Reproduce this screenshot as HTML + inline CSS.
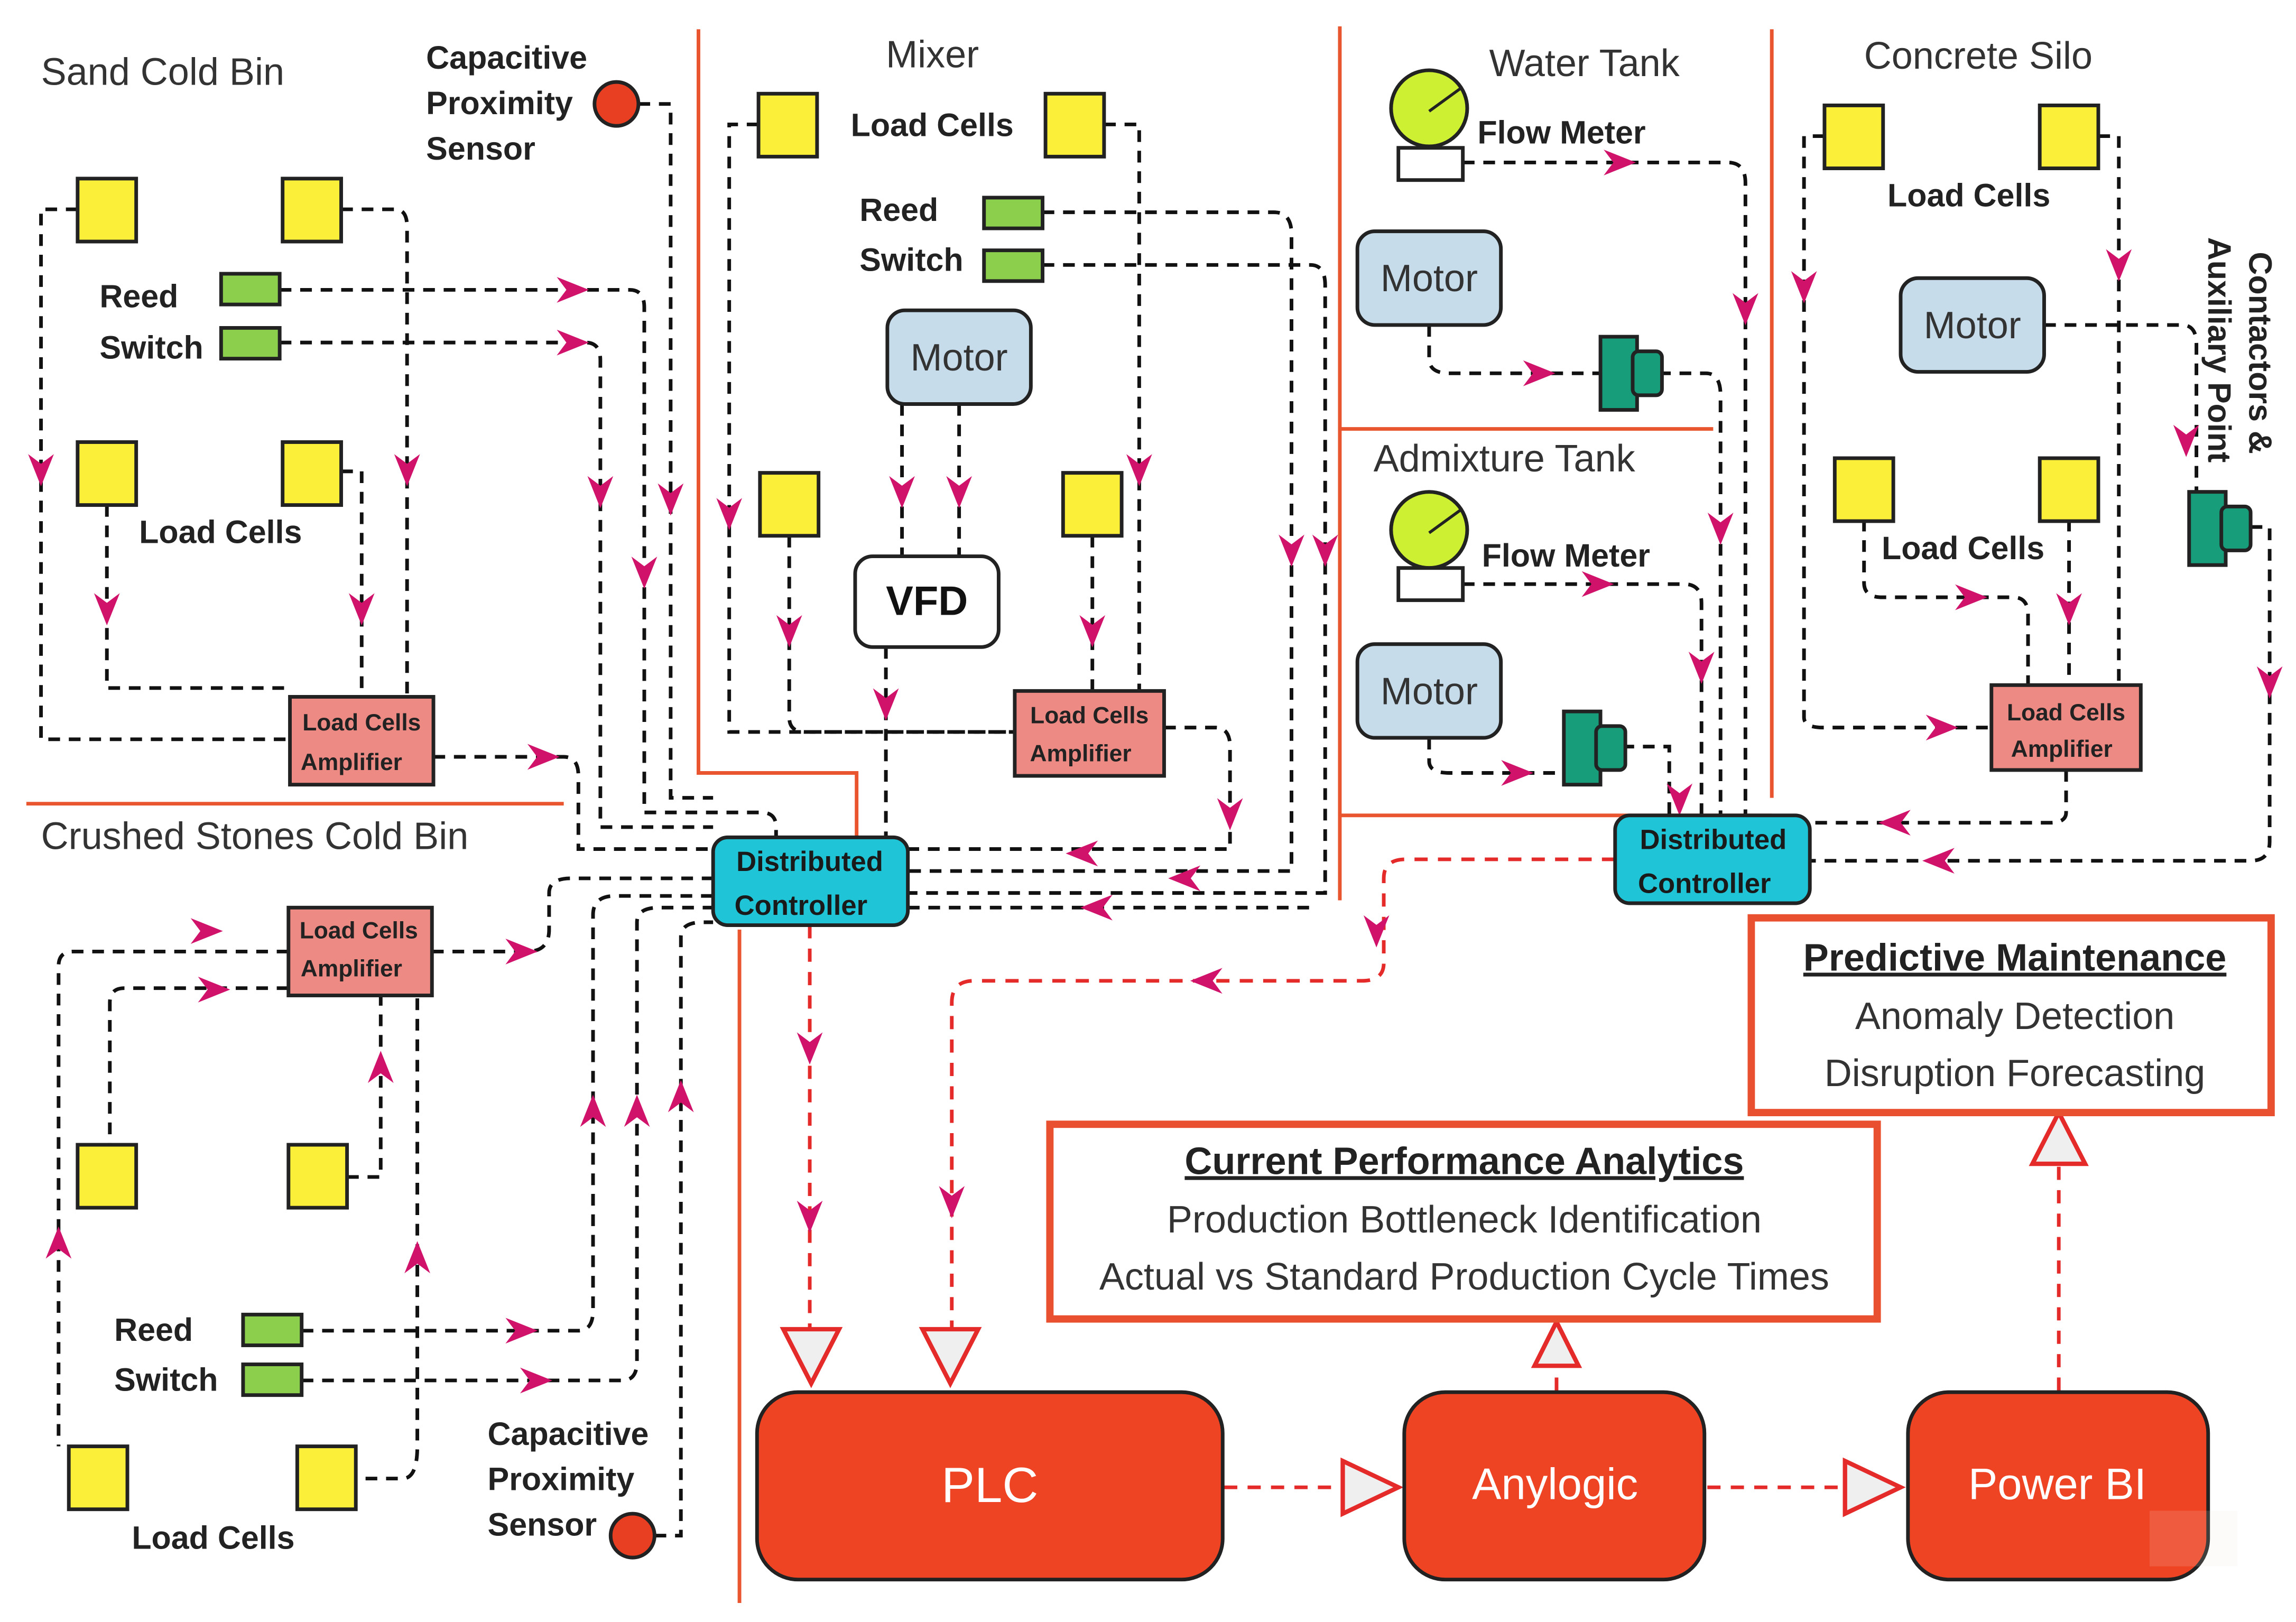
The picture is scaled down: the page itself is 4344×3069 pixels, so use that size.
<!DOCTYPE html>
<html><head><meta charset="utf-8"><style>
html,body{margin:0;padding:0;background:#fff;}
svg{display:block;}
text{font-family:"Liberation Sans","DejaVu Sans",sans-serif;}
</style></head><body>
<svg width="4344" height="3069" viewBox="0 0 1568 1108" preserveAspectRatio="none" xmlns="http://www.w3.org/2000/svg">
<defs>
<marker id="p" viewBox="0 0 10 10" refX="9" refY="5" markerWidth="22" markerHeight="22" orient="auto" markerUnits="userSpaceOnUse"><path d="M0,1 L10,5 L0,9 L3,5 z" fill="#d0126a"/></marker>
</defs>
<rect width="1568" height="1108" fill="#fff"/>
<g stroke="#e8552f" stroke-width="2.5" fill="none">
<path d="M477 20 V528 H585 V600"/>
<path d="M505 635 V1095"/>
<path d="M18 549 H385"/>
<path d="M915 18 V615"/>
<path d="M915 293 H1170"/>
<path d="M915 557 H1210"/>
<path d="M1210 20 V545"/>
</g>
<g stroke="#111" stroke-width="2.5" fill="none" stroke-dasharray="8 6">
<path d="M53 143 H28 V505 H198"/>
<path d="M233 143 H270 Q278 143 278 155 V476"/>
<path d="M73 345 V470 H198"/>
<path d="M233 322 H247 V476"/>
<path d="M191 198 H430 Q440 198 440 210 V555 H520 Q530 555 530 565 V600"/>
<path d="M191 234 H400 Q410 234 410 246 V565 H487"/>
<path d="M436 71 H458 V545 H487"/>
<path d="M296 517 H385 Q395 517 395 530 V580 H487"/>
<path d="M518 85 H498 V500 H693"/>
<path d="M754 85 H778 V472"/>
<path d="M539 366 V490 Q539 500 550 500 H693"/>
<path d="M746 366 V472"/>
<path d="M616 276 V380"/>
<path d="M655 276 V380"/>
<path d="M605 442 V572"/>
<path d="M712 145 H870 Q882 145 882 160 V595 H620"/>
<path d="M712 181 H895 Q905 181 905 195 V610 H620"/>
<path d="M795 497 H830 Q840 497 840 510 V580 H620"/>
<path d="M999 111 H1180 Q1192 111 1192 125 V557"/>
<path d="M976 222 V245 Q976 255 990 255 H1093"/>
<path d="M1133 255 H1165 Q1175 255 1175 270 V557"/>
<path d="M999 399 H1150 Q1162 399 1162 412 V557"/>
<path d="M976 504 V520 Q976 528 990 528 H1068"/>
<path d="M1108 510 H1140 V557"/>
<path d="M1246 93 H1232 V490 Q1232 497 1245 497 H1360"/>
<path d="M1433 93 H1447 V468"/>
<path d="M1273 355 V398 Q1273 408 1285 408 H1375 Q1385 408 1385 420 V468"/>
<path d="M1413 355 V468"/>
<path d="M1396 222 H1490 Q1500 222 1500 235 V336"/>
<path d="M1537 360 H1550 V575 Q1550 588 1537 588 H1236"/>
<path d="M1411 526 V555 Q1411 562 1400 562 H1236"/>
<path d="M197 650 H50 Q40 650 40 660 V988"/>
<path d="M197 675 H85 Q75 675 75 685 V782"/>
<path d="M237 804 H260 V680"/>
<path d="M295 650 H285 V988 Q285 1010 275 1010 H243"/>
<path d="M295 650 H360 Q375 650 375 635 V610 Q375 600 390 600 H487"/>
<path d="M206 909 H395 Q405 909 405 895 V625 Q405 612 420 612 H487"/>
<path d="M206 943 H425 Q435 943 435 930 V630 Q435 620 450 620 H487"/>
<path d="M447 1049 H465 V640 Q465 630 480 630 H487"/>
<path d="M620 620 H900"/>
</g>
<g stroke="#d0126a" stroke-width="0" fill="none">
<path d="M28 290 V330" marker-end="url(#p)"/>
<path d="M278 290 V330" marker-end="url(#p)"/>
<path d="M73 390 V425" marker-end="url(#p)"/>
<path d="M247 390 V425" marker-end="url(#p)"/>
<path d="M360 198 H400" marker-end="url(#p)"/>
<path d="M355 234 H400" marker-end="url(#p)"/>
<path d="M410 310 V345" marker-end="url(#p)"/>
<path d="M440 370 V400" marker-end="url(#p)"/>
<path d="M458 320 V350" marker-end="url(#p)"/>
<path d="M335 517 H380" marker-end="url(#p)"/>
<path d="M498 320 V360" marker-end="url(#p)"/>
<path d="M778 290 V330" marker-end="url(#p)"/>
<path d="M539 400 V440" marker-end="url(#p)"/>
<path d="M746 390 V440" marker-end="url(#p)"/>
<path d="M616 310 V345" marker-end="url(#p)"/>
<path d="M655 310 V345" marker-end="url(#p)"/>
<path d="M605 445 V490" marker-end="url(#p)"/>
<path d="M840 520 V565" marker-end="url(#p)"/>
<path d="M882 340 V385" marker-end="url(#p)"/>
<path d="M905 340 V385" marker-end="url(#p)"/>
<path d="M780 583 H730" marker-end="url(#p)"/>
<path d="M845 600 H800" marker-end="url(#p)"/>
<path d="M800 620 H740" marker-end="url(#p)"/>
<path d="M1065 111 H1115" marker-end="url(#p)"/>
<path d="M1192 180 V220" marker-end="url(#p)"/>
<path d="M1010 255 H1060" marker-end="url(#p)"/>
<path d="M1175 330 V370" marker-end="url(#p)"/>
<path d="M1060 399 H1100" marker-end="url(#p)"/>
<path d="M1162 420 V465" marker-end="url(#p)"/>
<path d="M995 528 H1045" marker-end="url(#p)"/>
<path d="M1147 510 V555" marker-end="url(#p)"/>
<path d="M1232 170 V205" marker-end="url(#p)"/>
<path d="M1447 150 V190" marker-end="url(#p)"/>
<path d="M1493 270 V310" marker-end="url(#p)"/>
<path d="M1310 408 H1355" marker-end="url(#p)"/>
<path d="M1413 385 V425" marker-end="url(#p)"/>
<path d="M1290 497 H1335" marker-end="url(#p)"/>
<path d="M1550 440 V475" marker-end="url(#p)"/>
<path d="M1330 562 H1285" marker-end="url(#p)"/>
<path d="M1360 588 H1315" marker-end="url(#p)"/>
<path d="M105 636 H150" marker-end="url(#p)"/>
<path d="M105 676 H155" marker-end="url(#p)"/>
<path d="M260 755 V720" marker-end="url(#p)"/>
<path d="M40 880 V840" marker-end="url(#p)"/>
<path d="M285 880 V850" marker-end="url(#p)"/>
<path d="M325 650 H365" marker-end="url(#p)"/>
<path d="M320 909 H365" marker-end="url(#p)"/>
<path d="M330 943 H375" marker-end="url(#p)"/>
<path d="M405 790 V750" marker-end="url(#p)"/>
<path d="M435 790 V750" marker-end="url(#p)"/>
<path d="M465 780 V740" marker-end="url(#p)"/>
</g>
<g stroke="#e52a2a" stroke-width="2.5" fill="none" stroke-dasharray="9 7">
<path d="M553 632 V908"/>
<path d="M1103 587 H960 Q945 587 945 600 V658 Q945 670 930 670 H665 Q650 670 650 685 V908"/>
<path d="M836 1016 H915"/>
<path d="M1166 1016 H1258"/>
<path d="M1063 950 V935"/>
<path d="M1406 950 V795"/>
</g>
<g stroke-width="0">
<path d="M553 680 V725" marker-end="url(#p)"/>
<path d="M553 800 V840" marker-end="url(#p)"/>
<path d="M940 610 V645" marker-end="url(#p)"/>
<path d="M860 670 H815" marker-end="url(#p)"/>
<path d="M650 790 V830" marker-end="url(#p)"/>
</g>
<g fill="#efefef" stroke="#e52a2a" stroke-width="3">
<path d="M535 908 H573 L554 945 Z"/>
<path d="M630 908 H668 L649 945 Z"/>
<path d="M917 998 V1034 L955 1016 Z"/>
<path d="M1260 998 V1034 L1298 1016 Z"/>
<path d="M1048 933 H1078 L1063 903 Z"/>
<path d="M1388 795 H1424 L1406 760 Z"/>
</g>
<g fill="#fbef3a" stroke="#222" stroke-width="2.5">
<rect x="53" y="122" width="40" height="43"/><rect x="193" y="122" width="40" height="43"/>
<rect x="53" y="302" width="40" height="43"/><rect x="193" y="302" width="40" height="43"/>
<rect x="518" y="64" width="40" height="43"/><rect x="714" y="64" width="40" height="43"/>
<rect x="519" y="323" width="40" height="43"/><rect x="726" y="323" width="40" height="43"/>
<rect x="1246" y="72" width="40" height="43"/><rect x="1393" y="72" width="40" height="43"/>
<rect x="1253" y="313" width="40" height="43"/><rect x="1393" y="313" width="40" height="43"/>
<rect x="53" y="782" width="40" height="43"/><rect x="197" y="782" width="40" height="43"/>
<rect x="47" y="988" width="40" height="43"/><rect x="203" y="988" width="40" height="43"/>
</g>
<g fill="#8ccf4d" stroke="#222" stroke-width="2.5">
<rect x="151" y="187" width="40" height="21"/><rect x="151" y="224" width="40" height="21"/>
<rect x="672" y="135" width="40" height="21"/><rect x="672" y="171" width="40" height="21"/>
<rect x="166" y="898" width="40" height="21"/><rect x="166" y="932" width="40" height="21"/>
</g>
<g fill="#ee8a84" stroke="#222" stroke-width="2.5">
<rect x="198" y="476" width="98" height="60"/><rect x="197" y="620" width="98" height="60"/>
<rect x="693" y="472" width="102" height="58"/><rect x="1360" y="468" width="102" height="58"/>
</g>
<g font-size="16" font-weight="bold" fill="#222" text-anchor="middle">
<text x="247" y="499">Load Cells</text><text x="240" y="526">Amplifier</text>
<text x="245" y="641">Load Cells</text><text x="240" y="667">Amplifier</text>
<text x="744" y="494">Load Cells</text><text x="738" y="520">Amplifier</text>
<text x="1411" y="492">Load Cells</text><text x="1408" y="517">Amplifier</text>
</g>
<g fill="#c6dcea" stroke="#222" stroke-width="2.5">
<rect x="606" y="212" width="98" height="64" rx="12"/><rect x="927" y="158" width="98" height="64" rx="12"/>
<rect x="927" y="440" width="98" height="64" rx="12"/><rect x="1298" y="190" width="98" height="64" rx="12"/>
</g>
<g font-size="26" fill="#333" text-anchor="middle">
<text x="655" y="253">Motor</text><text x="976" y="199">Motor</text>
<text x="976" y="481">Motor</text><text x="1347" y="231">Motor</text>
</g>
<rect x="584" y="380" width="98" height="62" rx="12" fill="#fff" stroke="#222" stroke-width="2.5"/>
<text x="633" y="420" font-size="28" font-weight="bold" text-anchor="middle" fill="#111">VFD</text>
<g fill="#1fc4d6" stroke="#222" stroke-width="2.5">
<rect x="487" y="572" width="133" height="60" rx="10"/><rect x="1103" y="557" width="133" height="60" rx="10"/>
</g>
<g font-size="19" font-weight="bold" fill="#1a1a1a" text-anchor="middle">
<text x="553" y="595">Distributed</text><text x="547" y="625">Controller</text>
<text x="1170" y="580">Distributed</text><text x="1164" y="610">Controller</text>
</g>
<g stroke="#222" stroke-width="2.5">
<circle cx="976" cy="74" r="26" fill="#cdf032"/><rect x="955" y="101" width="44" height="22" fill="#fff"/>
<circle cx="976" cy="362" r="26" fill="#cdf032"/><rect x="955" y="388" width="44" height="22" fill="#fff"/>
<path d="M976 76 L998 60" stroke-width="2"/><path d="M976 364 L998 348" stroke-width="2"/>
</g>
<g fill="#189d7b" stroke="#222" stroke-width="2.5">
<rect x="1093" y="230" width="25" height="50"/><rect x="1115" y="240" width="20" height="30" rx="4"/>
<rect x="1068" y="486" width="25" height="50"/><rect x="1090" y="496" width="20" height="30" rx="4"/>
<rect x="1495" y="336" width="25" height="50"/><rect x="1517" y="346" width="20" height="30" rx="4"/>
</g>
<g fill="#e83f22" stroke="#222" stroke-width="2.5">
<circle cx="421" cy="71" r="15"/><circle cx="432" cy="1049" r="15"/>
</g>
<g font-size="26" fill="#333">
<text x="28" y="58">Sand Cold Bin</text>
<text x="28" y="580">Crushed Stones Cold Bin</text>
<text x="605" y="46">Mixer</text>
<text x="1017" y="52">Water Tank</text>
<text x="1273" y="47">Concrete Silo</text>
<text x="938" y="322">Admixture Tank</text>
</g>
<g font-size="22" font-weight="bold" fill="#222">
<text x="291" y="47">Capacitive</text><text x="291" y="78">Proximity</text><text x="291" y="109">Sensor</text>
<text x="68" y="210">Reed</text><text x="68" y="245">Switch</text>
<text x="95" y="371">Load Cells</text>
<text x="581" y="93">Load Cells</text>
<text x="587" y="151">Reed</text><text x="587" y="185">Switch</text>
<text x="1009" y="98">Flow Meter</text>
<text x="1012" y="387">Flow Meter</text>
<text x="1289" y="141">Load Cells</text>
<text x="1285" y="382">Load Cells</text>
<text x="78" y="916">Reed</text><text x="78" y="950">Switch</text>
<text x="90" y="1058">Load Cells</text>
<text x="333" y="987">Capacitive</text><text x="333" y="1018">Proximity</text><text x="333" y="1049">Sensor</text>
<text transform="translate(1536,172) rotate(90)">Contactors &amp;</text>
<text transform="translate(1508,162) rotate(90)">Auxiliary Point</text>
</g>
<g fill="#ee4423" stroke="#222" stroke-width="2.5">
<rect x="517" y="951" width="318" height="128" rx="28"/>
<rect x="959" y="951" width="205" height="128" rx="28"/>
<rect x="1303" y="951" width="205" height="128" rx="28"/>
</g>
<g font-size="34" fill="#fff" text-anchor="middle">
<text x="676" y="1026">PLC</text>
<text x="1062" y="1024" font-size="30">Anylogic</text>
<text x="1405" y="1024" font-size="30">Power BI</text>
</g>
<rect x="1468" y="1032" width="60" height="38" fill="#f3e1dc" opacity="0.15"/>
<rect x="717" y="768" width="565" height="133" fill="#fff" stroke="#e8502f" stroke-width="5"/>
<rect x="1196" y="627" width="355" height="133" fill="#fff" stroke="#e8502f" stroke-width="5"/>
<g text-anchor="middle" fill="#222">
<text x="1000" y="802" font-size="26" font-weight="bold" text-decoration="underline">Current Performance Analytics</text>
<text x="1000" y="842" font-size="26" fill="#333">Production Bottleneck Identification</text>
<text x="1000" y="881" font-size="26" fill="#333">Actual vs Standard Production Cycle Times</text>
<text x="1376" y="663" font-size="26" font-weight="bold" text-decoration="underline">Predictive Maintenance</text>
<text x="1376" y="703" font-size="26" fill="#333">Anomaly Detection</text>
<text x="1376" y="742" font-size="26" fill="#333">Disruption Forecasting</text>
</g>
</svg>
</body></html>
